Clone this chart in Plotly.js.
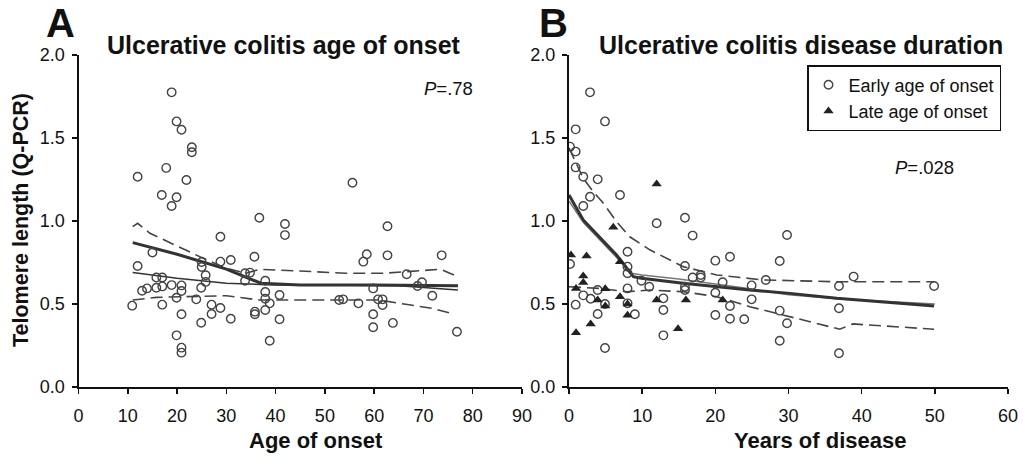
<!DOCTYPE html>
<html><head><meta charset="utf-8">
<script src="https://cdn.plot.ly/plotly-3.0.1.min.js"></script>
<style>html,body{margin:0;padding:0;background:#fff}#chart{width:1023px;height:456px}</style>
</head><body><div id="chart"></div>
<script>
// Panel A: telomere length vs age of onset
const ageOnset = [18.9,19.9,20.9,23.0,23.0,12.0,17.8,21.9,16.9,19.9,18.9,36.7,41.9,41.9,28.8,
  12.0,15.0,12.9,13.9,15.8,17.0,15.8,17.0,18.9,20.9,20.9,19.9,10.9,17.0,20.9,19.9,20.9,20.9,
  25.0,25.0,25.8,25.8,24.9,23.9,27.0,27.0,24.9,28.8,28.8,30.9,30.9,33.8,34.8,33.8,35.7,37.9,
  37.9,37.9,38.8,35.8,35.8,37.9,38.8,40.8,40.8,55.6,62.7,58.5,57.8,62.7,73.7,66.6,69.7,68.8,
  59.8,71.8,52.9,53.7,56.8,60.8,61.7,61.7,59.8,59.8,63.8,76.8];
const tlOnset = [1.775,1.60,1.55,1.444,1.414,1.267,1.32,1.247,1.157,1.143,1.09,1.02,0.982,0.915,0.905,
  0.729,0.81,0.58,0.594,0.66,0.66,0.598,0.606,0.614,0.612,0.578,0.538,0.49,0.496,0.438,0.311,0.237,0.207,
  0.753,0.723,0.673,0.633,0.598,0.528,0.496,0.44,0.387,0.476,0.755,0.765,0.411,0.685,0.689,0.64,0.785,0.64,
  0.572,0.532,0.504,0.454,0.438,0.464,0.279,0.554,0.408,1.23,0.968,0.80,0.755,0.793,0.793,0.679,0.631,0.608,
  0.594,0.55,0.524,0.528,0.504,0.528,0.528,0.494,0.438,0.36,0.386,0.333];
const fitAThickX = [11,20,30,37,45,60,77];
const fitAThickY = [0.87,0.80,0.71,0.625,0.615,0.615,0.61];
const fitAThinX = [11,20,30,40,55,65,70,77];
const fitAThinY = [0.69,0.655,0.625,0.615,0.613,0.61,0.60,0.585];
const ciAUpX = [11,12,14.5,24.9,30,34,36.7,40.8,44.8,54.3,61.7,73.5,76.6];
const ciAUpY = [0.966,0.986,0.926,0.781,0.715,0.685,0.709,0.705,0.699,0.685,0.685,0.709,0.669];
const ciALoX = [11,15.8,30,36.7,40.8,44.8,54.3,61,66.4,71.8,76.2];
const ciALoY = [0.524,0.54,0.55,0.524,0.524,0.524,0.528,0.524,0.498,0.474,0.44];

// Panel B: telomere length vs years of disease
const yearsEarly = [2.87,0.91,4.92,0.14,0.91,0.91,1.95,3.92,2.87,6.97,1.95,11.98,15.85,16.9,29.8,
  0.14,0.91,1.95,2.96,3.92,3.92,4.92,4.92,8.0,8.0,8.0,8.0,8.0,9.0,9.9,10.97,12.9,12.9,12.9,
  15.85,15.85,15.85,16.9,18.0,18.0,20.0,20.0,20.0,21.0,22.0,22.0,22.0,23.95,24.96,24.96,26.9,
  28.8,28.8,28.8,29.8,36.9,36.9,36.9,38.9,49.9];
const tlEarly = [1.775,1.552,1.60,1.448,1.418,1.323,1.267,1.251,1.146,1.157,1.09,0.986,1.02,0.912,0.916,
  0.741,0.496,0.552,0.532,0.584,0.44,0.50,0.235,0.815,0.725,0.685,0.594,0.504,0.438,0.64,0.604,0.534,0.464,0.311,
  0.729,0.604,0.584,0.66,0.675,0.66,0.761,0.568,0.434,0.631,0.785,0.488,0.411,0.408,0.612,0.528,0.645,
  0.759,0.46,0.279,0.384,0.608,0.474,0.203,0.665,0.608];
const yearsLate = [11.98,6.05,0.27,2.4,1.95,1.95,0.96,4.96,3.92,4.96,0.96,2.96,6.97,6.97,8.0,8.0,11.98,14.9,15.98,21.0];
const tlLate = [1.223,0.962,0.795,0.789,0.669,0.629,0.594,0.592,0.524,0.488,0.327,0.38,0.755,0.544,0.50,0.432,0.524,0.351,0.524,0.524];
const fitBThickX = [0,1.95,6.5,8.8,9.9,15.6,24.7,30.2,36.6,49.9];
const fitBThickY = [1.157,1.006,0.795,0.665,0.655,0.625,0.584,0.564,0.534,0.488];
const fitBThinX = [0,2,6.5,8.5,10,15,20,25,30,37,50];
const fitBThinY = [1.12,0.99,0.78,0.685,0.675,0.65,0.62,0.59,0.555,0.53,0.50];
const ciBUpX = [0,1.05,1.95,3.3,4.7,6.5,8.3,11.1,15.6,20.2,26.5,36.6,49.9];
const ciBUpY = [1.44,1.337,1.257,1.177,1.107,0.996,0.905,0.825,0.725,0.675,0.645,0.634,0.634];
const ciBLoX = [0,4.2,7.9,11.1,15.6,20.2,24.7,30.2,32,37,38.8,49.9];
const ciBLoY = [0.604,0.594,0.574,0.584,0.574,0.544,0.484,0.424,0.404,0.348,0.38,0.348];

const FONT = 'Liberation Sans, Arial, sans-serif';
const circ = {symbol:'circle-open', size:8.5, color:'#444', line:{width:1.4, color:'#444'}};
const tri = {symbol:'triangle-up', size:9, color:'#222'};
const dashL = (x,y,xa,ya)=>({x,y,xaxis:xa,yaxis:ya,mode:'lines',showlegend:false,hoverinfo:'skip',
  line:{color:'#444',width:1.6,dash:'12px,6px'}});
const solid = (x,y,xa,ya,w,c)=>({x,y,xaxis:xa,yaxis:ya,mode:'lines',showlegend:false,hoverinfo:'skip',
  line:{color:c,width:w}});

const traces = [
  dashL(ciAUpX,ciAUpY,'x','y'), dashL(ciALoX,ciALoY,'x','y'),
  solid(fitAThinX,fitAThinY,'x','y',1.5,'#333'),
  solid(fitAThickX,fitAThickY,'x','y',3,'#333'),
  {x:ageOnset,y:tlOnset,xaxis:'x',yaxis:'y',mode:'markers',marker:circ,showlegend:false},
  dashL(ciBUpX,ciBUpY,'x2','y2'), dashL(ciBLoX,ciBLoY,'x2','y2'),
  solid(fitBThinX,fitBThinY,'x2','y2',1.5,'#777'),
  solid(fitBThickX,fitBThickY,'x2','y2',3,'#333'),
  {x:yearsEarly,y:tlEarly,xaxis:'x2',yaxis:'y2',mode:'markers',marker:circ,name:'Early age of onset'},
  {x:yearsLate,y:tlLate,xaxis:'x2',yaxis:'y2',mode:'markers',marker:tri,name:'Late age of onset'}
];

const W=1023,H=456;
const px=(v)=>v/W, py=(v)=>(H-v)/H;
const axisBase = {showgrid:false,zeroline:false,showline:true,linecolor:'#111',linewidth:2,
  ticks:'outside',ticklen:5,tickwidth:1.5,tickcolor:'#111',tickfont:{family:FONT,size:18,color:'#111'},fixedrange:true};
const yBase = Object.assign({},axisBase,{range:[0,2],dtick:0.5,tick0:0,tickformat:'.1f',domain:[py(387),py(55)],ticklabelstandoff:3});

const ann = (text,x,y,size,bold,extra)=>Object.assign({text: bold?('<b>'+text+'</b>'):text,
  xref:'paper',yref:'paper',x:px(x),y:py(y),xanchor:'center',yanchor:'middle',showarrow:false,
  font:{family:FONT,size:size,color:'#111'}},extra||{});

const layout = {
  width:W,height:H,margin:{l:0,r:0,t:0,b:0},paper_bgcolor:'#fff',plot_bgcolor:'#fff',
  font:{family:FONT},
  xaxis:Object.assign({},axisBase,{range:[0,90],dtick:10,tick0:0,domain:[px(78.5),px(522)],anchor:'y',ticklabelstandoff:6}),
  yaxis:Object.assign({},yBase,{anchor:'x'}),
  xaxis2:Object.assign({},axisBase,{range:[0,60],dtick:10,tick0:0,domain:[px(569),px(1008)],anchor:'y2',ticklabelstandoff:6}),
  yaxis2:Object.assign({},yBase,{anchor:'x2'}),
  showlegend:true,
  legend:{x:px(807),y:py(65),xanchor:'left',yanchor:'top',bordercolor:'#111',borderwidth:1.5,
    bgcolor:'#fff',font:{family:FONT,size:18,color:'#111'},tracegroupgap:0},
  annotations:[
    ann('A',60.5,0,40,true,{yanchor:'top',borderpad:0}), ann('B',553.5,0,40,true,{yanchor:'top',borderpad:0}),
    ann('Ulcerative colitis age of onset',284,45,25,true),
    ann('Ulcerative colitis disease duration',801,45,25,true),
    ann('Telomere length (Q-PCR)',21,220,21.5,true,{textangle:-90}),
    ann('Age of onset',316,440,22,true),
    ann('Years of disease',820,440,22,true),
    ann('<i>P</i>=.78',448,88,18.5,false),
    ann('<i>P</i>=.028',924,167,18.5,false)
  ]
};
Plotly.newPlot('chart',traces,layout,{displayModeBar:false,staticPlot:true});
</script></body></html>
